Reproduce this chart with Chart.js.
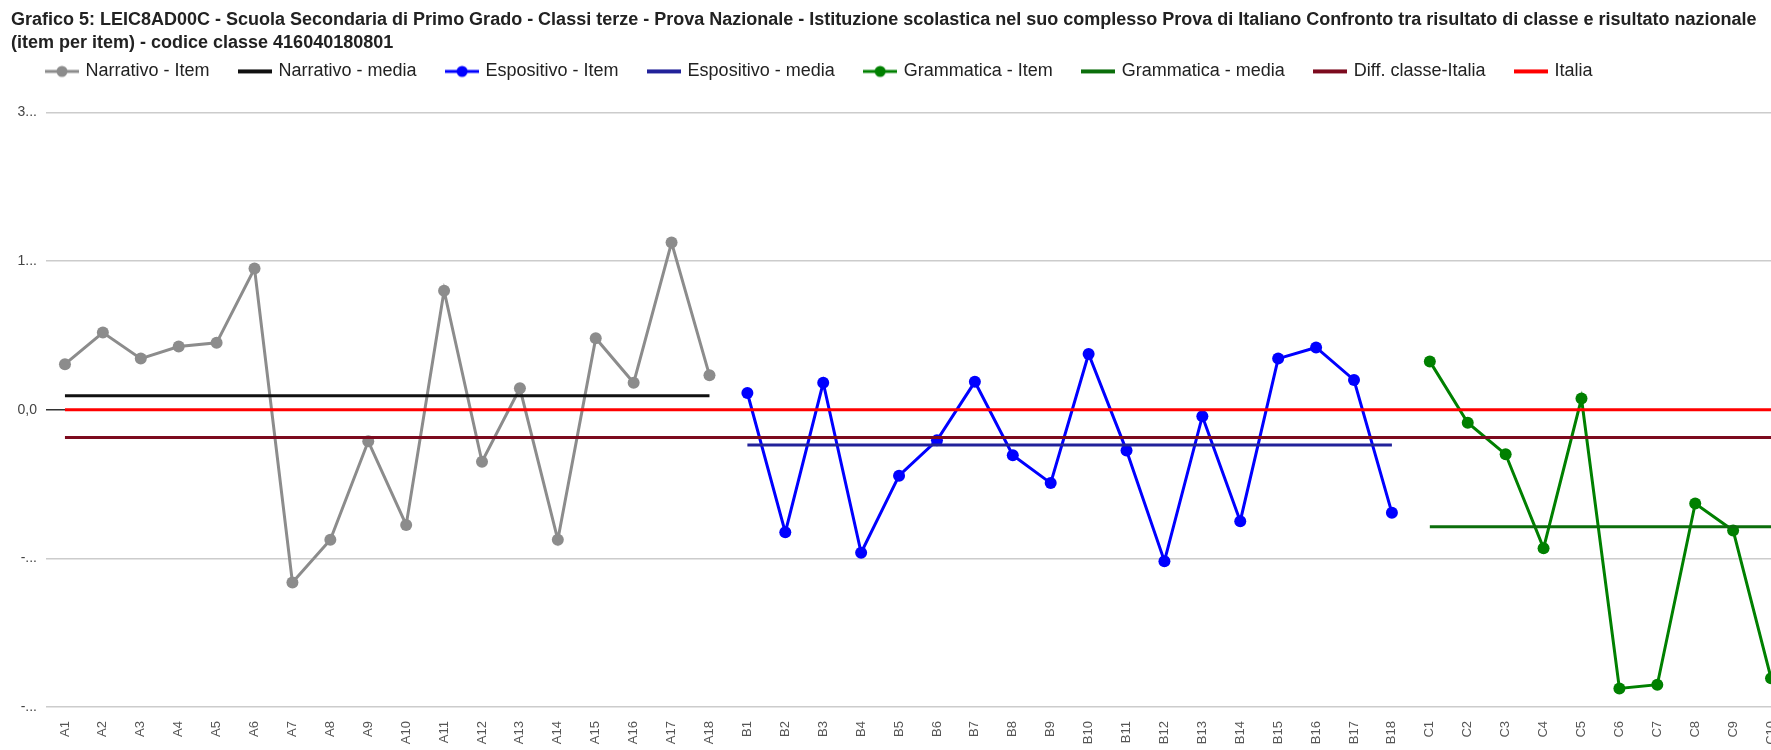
<!DOCTYPE html>
<html>
<head>
<meta charset="utf-8">
<title>Grafico 5 - Prova di Italiano</title>
<script src="https://cdn.jsdelivr.net/npm/chart.js@4.4.1/dist/chart.umd.min.js"></script>
<style>
    html, body { margin: 0; padding: 0; background: #fff; overflow: hidden; }
    #wrap { width: 1796px; height: 750px; }
</style>
</head>
<body>
<div id="wrap"><canvas id="itemChart" width="1796" height="750"></canvas></div>
<script>
// categorie (item)
const categories = [
    'A1', 'A2', 'A3', 'A4', 'A5', 'A6', 'A7', 'A8', 'A9', 'A10', 'A11', 'A12', 'A13', 'A14', 'A15', 'A16', 'A17', 'A18',
    'B1', 'B2', 'B3', 'B4', 'B5', 'B6', 'B7', 'B8', 'B9', 'B10', 'B11', 'B12', 'B13', 'B14', 'B15', 'B16', 'B17', 'B18',
    'C1', 'C2', 'C3', 'C4', 'C5', 'C6', 'C7', 'C8', 'C9', 'C10'
];

// differenza classe - Italia per item
const narrativoItem = [4.9, 8.3, 5.5, 6.8, 7.2, 15.2, -18.6, -14.0, -3.4, -12.4, 12.8, -5.6, 2.3, -14.0, 7.7, 2.9, 18.0, 3.7];
const espositivoItem = [1.8, -13.2, 2.9, -15.4, -7.1, -3.3, 3.0, -4.9, -7.9, 6.0, -4.4, -16.3, -0.7, -12.0, 5.5, 6.7, 3.2, -11.1];
const grammaticaItem = [5.2, -1.4, -4.8, -14.9, 1.2, -30.0, -29.6, -10.1, -13.0, -28.9];

// medie
const narrativoMedia = [1.5];
const espositivoMedia = [-3.8];
const grammaticaMedia = [-12.6];
const diffClasseItalia = [-3.0];
const italia = [0];

// asse y
const yTicks = [-32, -16, 0, 16, 32];

// mette i valori della sezione nelle sue colonne, null altrove
function section(prefix, values) {
    let k = 0;
    return categories.map(c => (c.charAt(0) === prefix ? values[k++] : null));
}

function flat(prefix, v) {
    return categories.map(c => (prefix === null || c.charAt(0) === prefix ? v : null));
}

// etichette tagliate come nell'originale
function tickLabel(value) {
    const s = value.toFixed(1).replace('.', ',');
    return s.length > 3 ? s.charAt(0) + '...' : s;
}

// icone della legenda
function legendIcon(color, withDot) {
    const c = document.createElement('canvas');
    c.width = 34;
    c.height = 14;
    const g = c.getContext('2d');
    g.strokeStyle = color;
    g.lineWidth = withDot ? 3 : 4;
    g.beginPath();
    g.moveTo(0, 7);
    g.lineTo(34, 7);
    g.stroke();
    if (withDot) {
        g.fillStyle = color;
        g.beginPath();
        g.arc(17, 7, 5.5, 0, Math.PI * 2);
        g.fill();
    }
    return c;
}

function itemSeries(label, data, color) {
    return {
        label: label,
        data: data,
        borderColor: color,
        backgroundColor: color,
        borderWidth: 3,
        pointRadius: 6,
        pointHoverRadius: 6,
        pointBorderWidth: 0,
        legendIcon: legendIcon(color, true)
    };
}

function lineSeries(label, data, color) {
    return {
        label: label,
        data: data,
        borderColor: color,
        backgroundColor: color,
        borderWidth: 3,
        pointRadius: 0,
        pointHoverRadius: 0,
        legendIcon: legendIcon(color, false)
    };
}

function initItemChart() {
    const ctx = document.getElementById('itemChart').getContext('2d');

    const datasets = [
        itemSeries('Narrativo - Item', section('A', narrativoItem), '#8c8c8c'),
        lineSeries('Narrativo - media', flat('A', narrativoMedia[0]), '#111111'),
        itemSeries('Espositivo - Item', section('B', espositivoItem), '#0000ff'),
        lineSeries('Espositivo - media', flat('B', espositivoMedia[0]), '#22229a'),
        itemSeries('Grammatica - Item', section('C', grammaticaItem), '#008000'),
        lineSeries('Grammatica - media', flat('C', grammaticaMedia[0]), '#0b6e0b'),
        lineSeries('Diff. classe-Italia', flat(null, diffClasseItalia[0]), '#7c0a1e'),
        lineSeries('Italia', flat(null, italia[0]), '#ff0000')
    ];
    // l'ultima serie sopra le altre
    datasets.forEach((d, i) => { d.order = -i; });

    // spazio tra legenda e grafico, legenda allineata all'area del grafico
    const legendSpace = {
        id: 'legendSpace',
        beforeInit(chart) {
            const fit = chart.legend.fit;
            chart.legend.fit = function() {
                fit.bind(chart.legend)();
                this.height += 22;
            };
        },
        afterLayout(chart) {
            chart.legend.left += 5.5;
        }
    };

    new Chart(ctx, {
        type: 'line',
        data: {
            labels: categories,
            datasets: datasets
        },
        plugins: [legendSpace],
        options: {
            responsive: false,
            animation: false,
            spanGaps: false,
            layout: {
                padding: { left: 11, right: 0, top: 0, bottom: 0 }
            },
            plugins: {
                title: {
                    display: true,
                    align: 'start',
                    text: [
                        'Grafico 5: LEIC8AD00C - Scuola Secondaria di Primo Grado - Classi terze - Prova Nazionale - Istituzione scolastica nel suo complesso Prova di Italiano Confronto tra risultato di classe e risultato nazionale',
                        '(item per item) - codice classe 416040180801'
                    ],
                    color: '#222',
                    font: {
                        family: "'Liberation Sans', Arial, sans-serif",
                        size: 18,
                        weight: 'bold',
                        lineHeight: 1.27
                    },
                    padding: { top: 8.5, bottom: -22.8 }
                },
                legend: {
                    display: true,
                    position: 'top',
                    align: 'start',
                    labels: {
                        usePointStyle: true,
                        pointStyleWidth: 29,
                        padding: 31,
                        color: '#222',
                        font: {
                            family: "'Liberation Sans', Arial, sans-serif",
                            size: 18
                        },
                        generateLabels: function(chart) {
                            return chart.data.datasets.map((ds, i) => ({
                                text: ds.label,
                                pointStyle: ds.legendIcon,
                                fillStyle: ds.borderColor,
                                strokeStyle: ds.borderColor,
                                fontColor: '#222',
                                lineWidth: 0,
                                hidden: false,
                                datasetIndex: i
                            }));
                        }
                    }
                },
                tooltip: { enabled: false }
            },
            scales: {
                y: {
                    min: yTicks[0],
                    max: yTicks[yTicks.length - 1],
                    afterBuildTicks: function(scale) {
                        scale.ticks = yTicks.map(v => ({ value: v }));
                    },
                    afterFit: function(scale) {
                        scale.width = 35;
                    },
                    border: { display: false },
                    grid: {
                        drawTicks: false,
                        lineWidth: 1.5,
                        color: function(c) {
                            return c.tick && c.tick.value === 0 ? '#333333' : '#cccccc';
                        }
                    },
                    ticks: {
                        padding: 9,
                        color: '#444',
                        font: {
                            family: "'Liberation Sans', Arial, sans-serif",
                            size: 14
                        },
                        callback: function(value) {
                            return tickLabel(value);
                        }
                    }
                },
                x: {
                    offset: true,
                    afterFit: function(scale) {
                        scale.height = 43;
                        scale.paddingLeft = 0;
                        scale.paddingRight = 0;
                    },
                    border: { display: false },
                    grid: {
                        display: false,
                        drawTicks: false
                    },
                    ticks: {
                        autoSkip: false,
                        minRotation: 90,
                        maxRotation: 90,
                        padding: 14,
                        color: '#555',
                        font: {
                            family: "'Liberation Sans', Arial, sans-serif",
                            size: 13
                        }
                    }
                }
            }
        }
    });
}

document.addEventListener('DOMContentLoaded', function() {
    initItemChart();
});
</script>
</body>
</html>
